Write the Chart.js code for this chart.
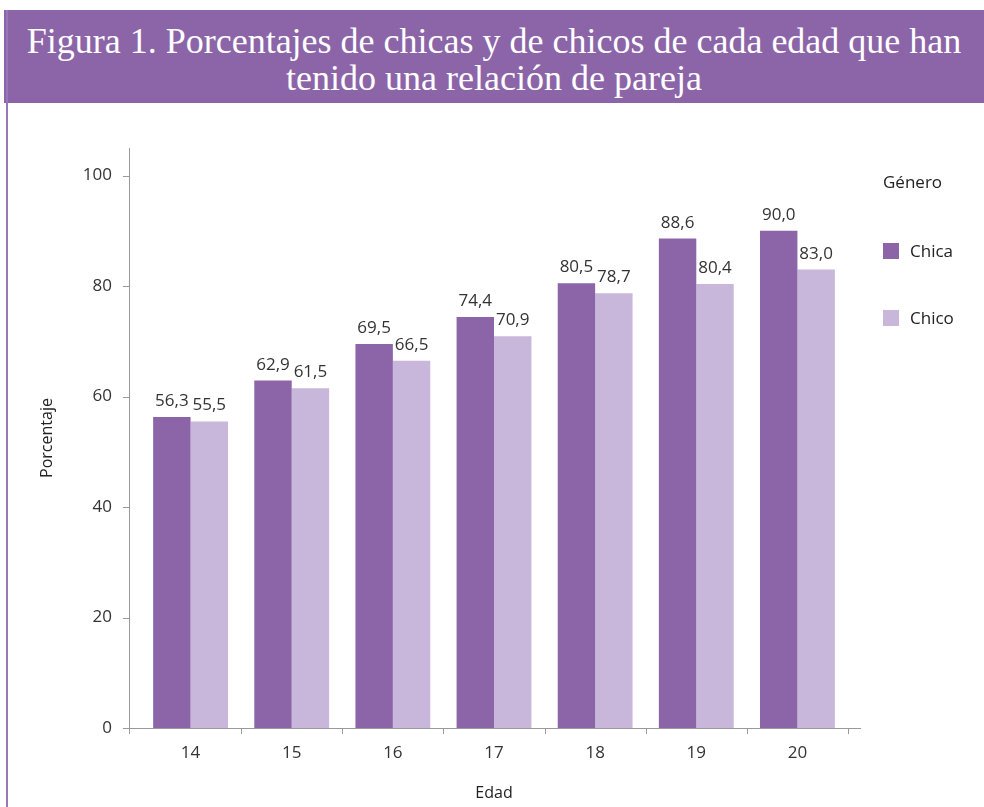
<!DOCTYPE html>
<html>
<head>
<meta charset="utf-8">
<script src="https://cdn.jsdelivr.net/npm/chart.js@4/dist/chart.umd.min.js"></script>
<style>
  body { margin: 0; background: #fff; width: 984px; height: 807px; overflow: hidden; position: relative; font-family: "Open Sans", sans-serif; }
  #band { position: absolute; left: 4px; top: 10px; width: 980px; height: 93px; background: #8c65a9; color: #fff;
          font-family: "Liberation Serif", serif; font-size: 36px; line-height: 37px; text-align: center; padding-top: 13px; box-sizing: border-box; }
  #side { position: absolute; left: 6px; top: 10px; width: 2px; height: 797px; background: #9877b5; }
  #wrap { position: absolute; left: 0; top: 0; width: 984px; height: 807px; }
  #legend { position: absolute; left: 883px; top: 170px; font-size: 17px; color: #222; }
  .item { position: absolute; left: 0; white-space: nowrap; }
  .item span.box { display: inline-block; width: 16px; height: 16px; vertical-align: -2px; margin-right: 11px; }
</style>
</head>
<body>
<div id="band">Figura 1. Porcentajes de chicas y de chicos de cada edad que han<br>tenido una relación de pareja</div>
<div id="side"></div>
<div id="wrap"><canvas id="chart" width="984" height="807"></canvas></div>
<div id="legend"><div class="item" style="top:0">Género</div></div>
<script>
const edades = ["14", "15", "16", "17", "18", "19", "20"];
const chica = [56.3, 62.9, 69.5, 74.4, 80.5, 88.6, 90.0];
const chico = [55.5, 61.5, 66.5, 70.9, 78.7, 80.4, 83.0];
const yTicks = [0, 20, 40, 60, 80, 100];
const colores = { Chica: "#8c65a9", Chico: "#c8b7da" };

const fmt = v => v.toFixed(1).replace(".", ",");

// leyenda a mano
const leg = document.getElementById("legend");
["Chica", "Chico"].forEach((n, i) => {
  const d = document.createElement("div");
  d.className = "item";
  d.style.top = (69 + i * 67) + "px";
  d.innerHTML = '<span class="box" style="background:' + colores[n] + '"></span>' + n;
  leg.appendChild(d);
});

// ejes y etiquetas
const ejes = {
  id: "ejes",
  afterDraw(chart) {
    const ctx = chart.ctx, y = chart.scales.y;
    const a = chart.chartArea;
    const x0 = a.left - 11, y0 = y.getPixelForValue(0);
    ctx.save();
    ctx.strokeStyle = "#9a9a9a";
    ctx.lineWidth = 1;
    ctx.beginPath();
    ctx.moveTo(x0 + 0.5, y.getPixelForValue(105));
    ctx.lineTo(x0 + 0.5, y0 + 6);
    ctx.moveTo(x0 - 6, y0 + 0.5);
    ctx.lineTo(a.right + 13, y0 + 0.5);
    yTicks.forEach(t => {
      const py = Math.round(y.getPixelForValue(t)) + 0.5;
      ctx.moveTo(x0 - 6, py); ctx.lineTo(x0, py);
    });
    for (let i = 1; i <= edades.length; i++) {
      const px = Math.round(a.left + (a.right - a.left) * i / edades.length) + 0.5;
      ctx.moveTo(px, y0); ctx.lineTo(px, y0 + 6);
    }
    ctx.stroke();

    ctx.fillStyle = "#333";
    ctx.font = "17px 'Open Sans'";
    ctx.textAlign = "center";
    ctx.textBaseline = "alphabetic";
    chart.data.datasets.forEach((ds, di) => {
      chart.getDatasetMeta(di).data.forEach((bar, i) => {
        ctx.fillText(fmt(ds.data[i]), bar.x, bar.y - 11);
      });
    });
    ctx.restore();
  }
};

new Chart(document.getElementById("chart"), {
  type: "bar",
  data: {
    labels: edades,
    datasets: [
      { label: "Chica", data: chica, backgroundColor: colores.Chica },
      { label: "Chico", data: chico, backgroundColor: colores.Chico }
    ]
  },
  options: {
    responsive: false,
    animation: false,
    devicePixelRatio: 1,
    layout: { padding: { left: 10, top: 148, right: 136, bottom: 0 } },
    datasets: { bar: { categoryPercentage: 0.74, barPercentage: 1 } },
    plugins: { legend: { display: false }, tooltip: { enabled: false } },
    scales: {
      x: {
        grid: { display: false, drawTicks: false },
        border: { display: false },
        ticks: { color: "#333", font: { family: "Open Sans", size: 17 }, padding: 15 },
        title: { display: true, text: "Edad", color: "#222", font: { family: "Open Sans", size: 16 }, padding: { top: 10 } },
        afterFit: s => { s.height = 79; }
      },
      y: {
        min: 0, max: 105,
        afterBuildTicks: s => { s.ticks = yTicks.map(v => ({ value: v })); },
        grid: { display: false, drawTicks: false },
        border: { display: false },
        ticks: { color: "#333", font: { family: "Open Sans", size: 17 }, padding: 28 },
        title: { display: true, text: "Porcentaje", color: "#222", font: { family: "Open Sans", size: 16 }, padding: { top: 28 } },
        afterFit: s => { s.width = 130; }
      }
    }
  },
  plugins: [ejes]
});
</script>
</body>
</html>
